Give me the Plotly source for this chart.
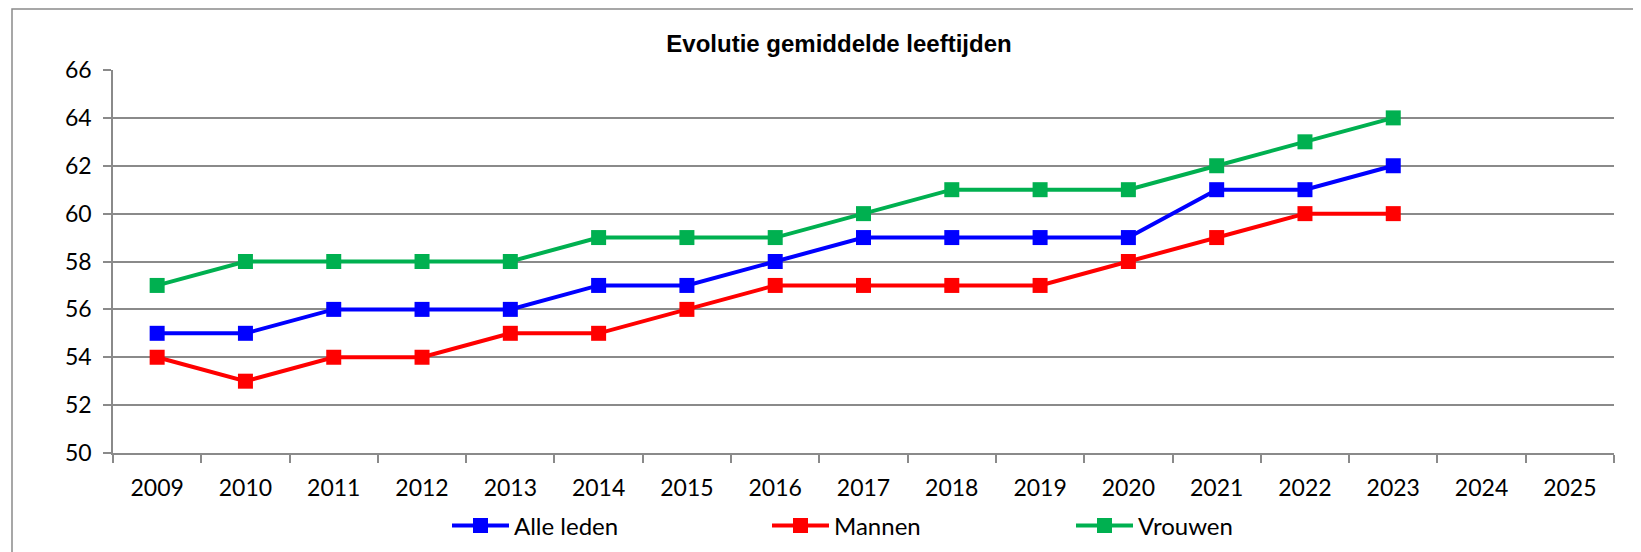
import plotly.graph_objects as go

years = [str(y) for y in range(2009, 2026)]
data_years = [str(y) for y in range(2009, 2024)]
alle_leden = [55, 55, 56, 56, 56, 57, 57, 58, 59, 59, 59, 59, 61, 61, 62]
mannen = [54, 53, 54, 54, 55, 55, 56, 57, 57, 57, 57, 58, 59, 60, 60]
vrouwen = [57, 58, 58, 58, 58, 59, 59, 59, 60, 61, 61, 61, 62, 63, 64]
y_ticks = list(range(50, 67, 2))

W, H = 1641, 552
OFF = 8  # page body margin
ML, MR, MT, MB = 113 - OFF, 27 + OFF, 70 - OFF, 99 + OFF
PW, PH = W - ML - MR, H - MT - MB

FONT = "Lato"
GRID = "#8a8a8a"

fig = go.Figure()
series = [("Alle leden", alle_leden, "#0000FF", "legend", 439),
          ("Mannen", mannen, "#FF0000", "legend2", 759),
          ("Vrouwen", vrouwen, "#00B050", "legend3", 1063)]
for name, vals, col, leg, _ in series:
    fig.add_trace(go.Scatter(
        x=data_years, y=vals, name=name, mode="lines+markers",
        line=dict(color=col, width=4),
        marker=dict(symbol="square", size=15, color=col),
        legend=leg,
    ))

def px_x(p):
    return (p - OFF - ML) / PW

def px_y(p):
    return (H - MB - (p - OFF)) / PH

fig.add_shape(type="rect", xref="paper", yref="paper",
              x0=px_x(12), x1=px_x(W + 30), y0=px_y(H + 30), y1=px_y(9),
              line=dict(color=GRID, width=1.5), fillcolor="rgba(0,0,0,0)", layer="below")

legends = {}
for _, _, _, leg, lx in series:
    legends[leg] = dict(orientation="h", x=lx / W, xanchor="left", xref="container",
                        y=1 - 518 / H, yanchor="middle", yref="container",
                        font=dict(family=FONT, size=24, color="black"),
                        bgcolor="rgba(0,0,0,0)", itemwidth=57)

fig.update_layout(
    width=W, height=H,
    margin=dict(l=ML, r=MR, t=MT, b=MB, autoexpand=False),
    paper_bgcolor="white", plot_bgcolor="white",
    font=dict(family=FONT, size=23, color="black"),
    title=dict(text="<b>Evolutie gemiddelde leeftijden</b>",
               font=dict(family="Liberation Sans, Arial", size=24, color="black"),
               x=831 / W, xanchor="center", xref="container",
               y=1 - 36 / H, yanchor="middle", yref="container"),
    showlegend=True,
    xaxis=dict(type="category", categoryorder="array", categoryarray=years,
               range=[-0.5, len(years) - 0.5], tickson="boundaries",
               ticks="outside", ticklen=8, tickcolor=GRID, tickwidth=1.5,
               showline=True, linecolor=GRID, linewidth=1.5,
               showgrid=False, ticklabelstandoff=14,
               tickfont=dict(family=FONT, size=23)),
    yaxis=dict(range=[50, 66], tickvals=y_ticks, ticks="outside", ticklen=8,
               tickcolor=GRID, tickwidth=1.5,
               showline=True, linecolor=GRID, linewidth=1.5,
               showgrid=True, gridcolor=GRID, gridwidth=1.5,
               zeroline=False, ticklabelstandoff=7,
               tickfont=dict(family=FONT, size=23)),
    **legends,
)

fig.write_html("out.html")
